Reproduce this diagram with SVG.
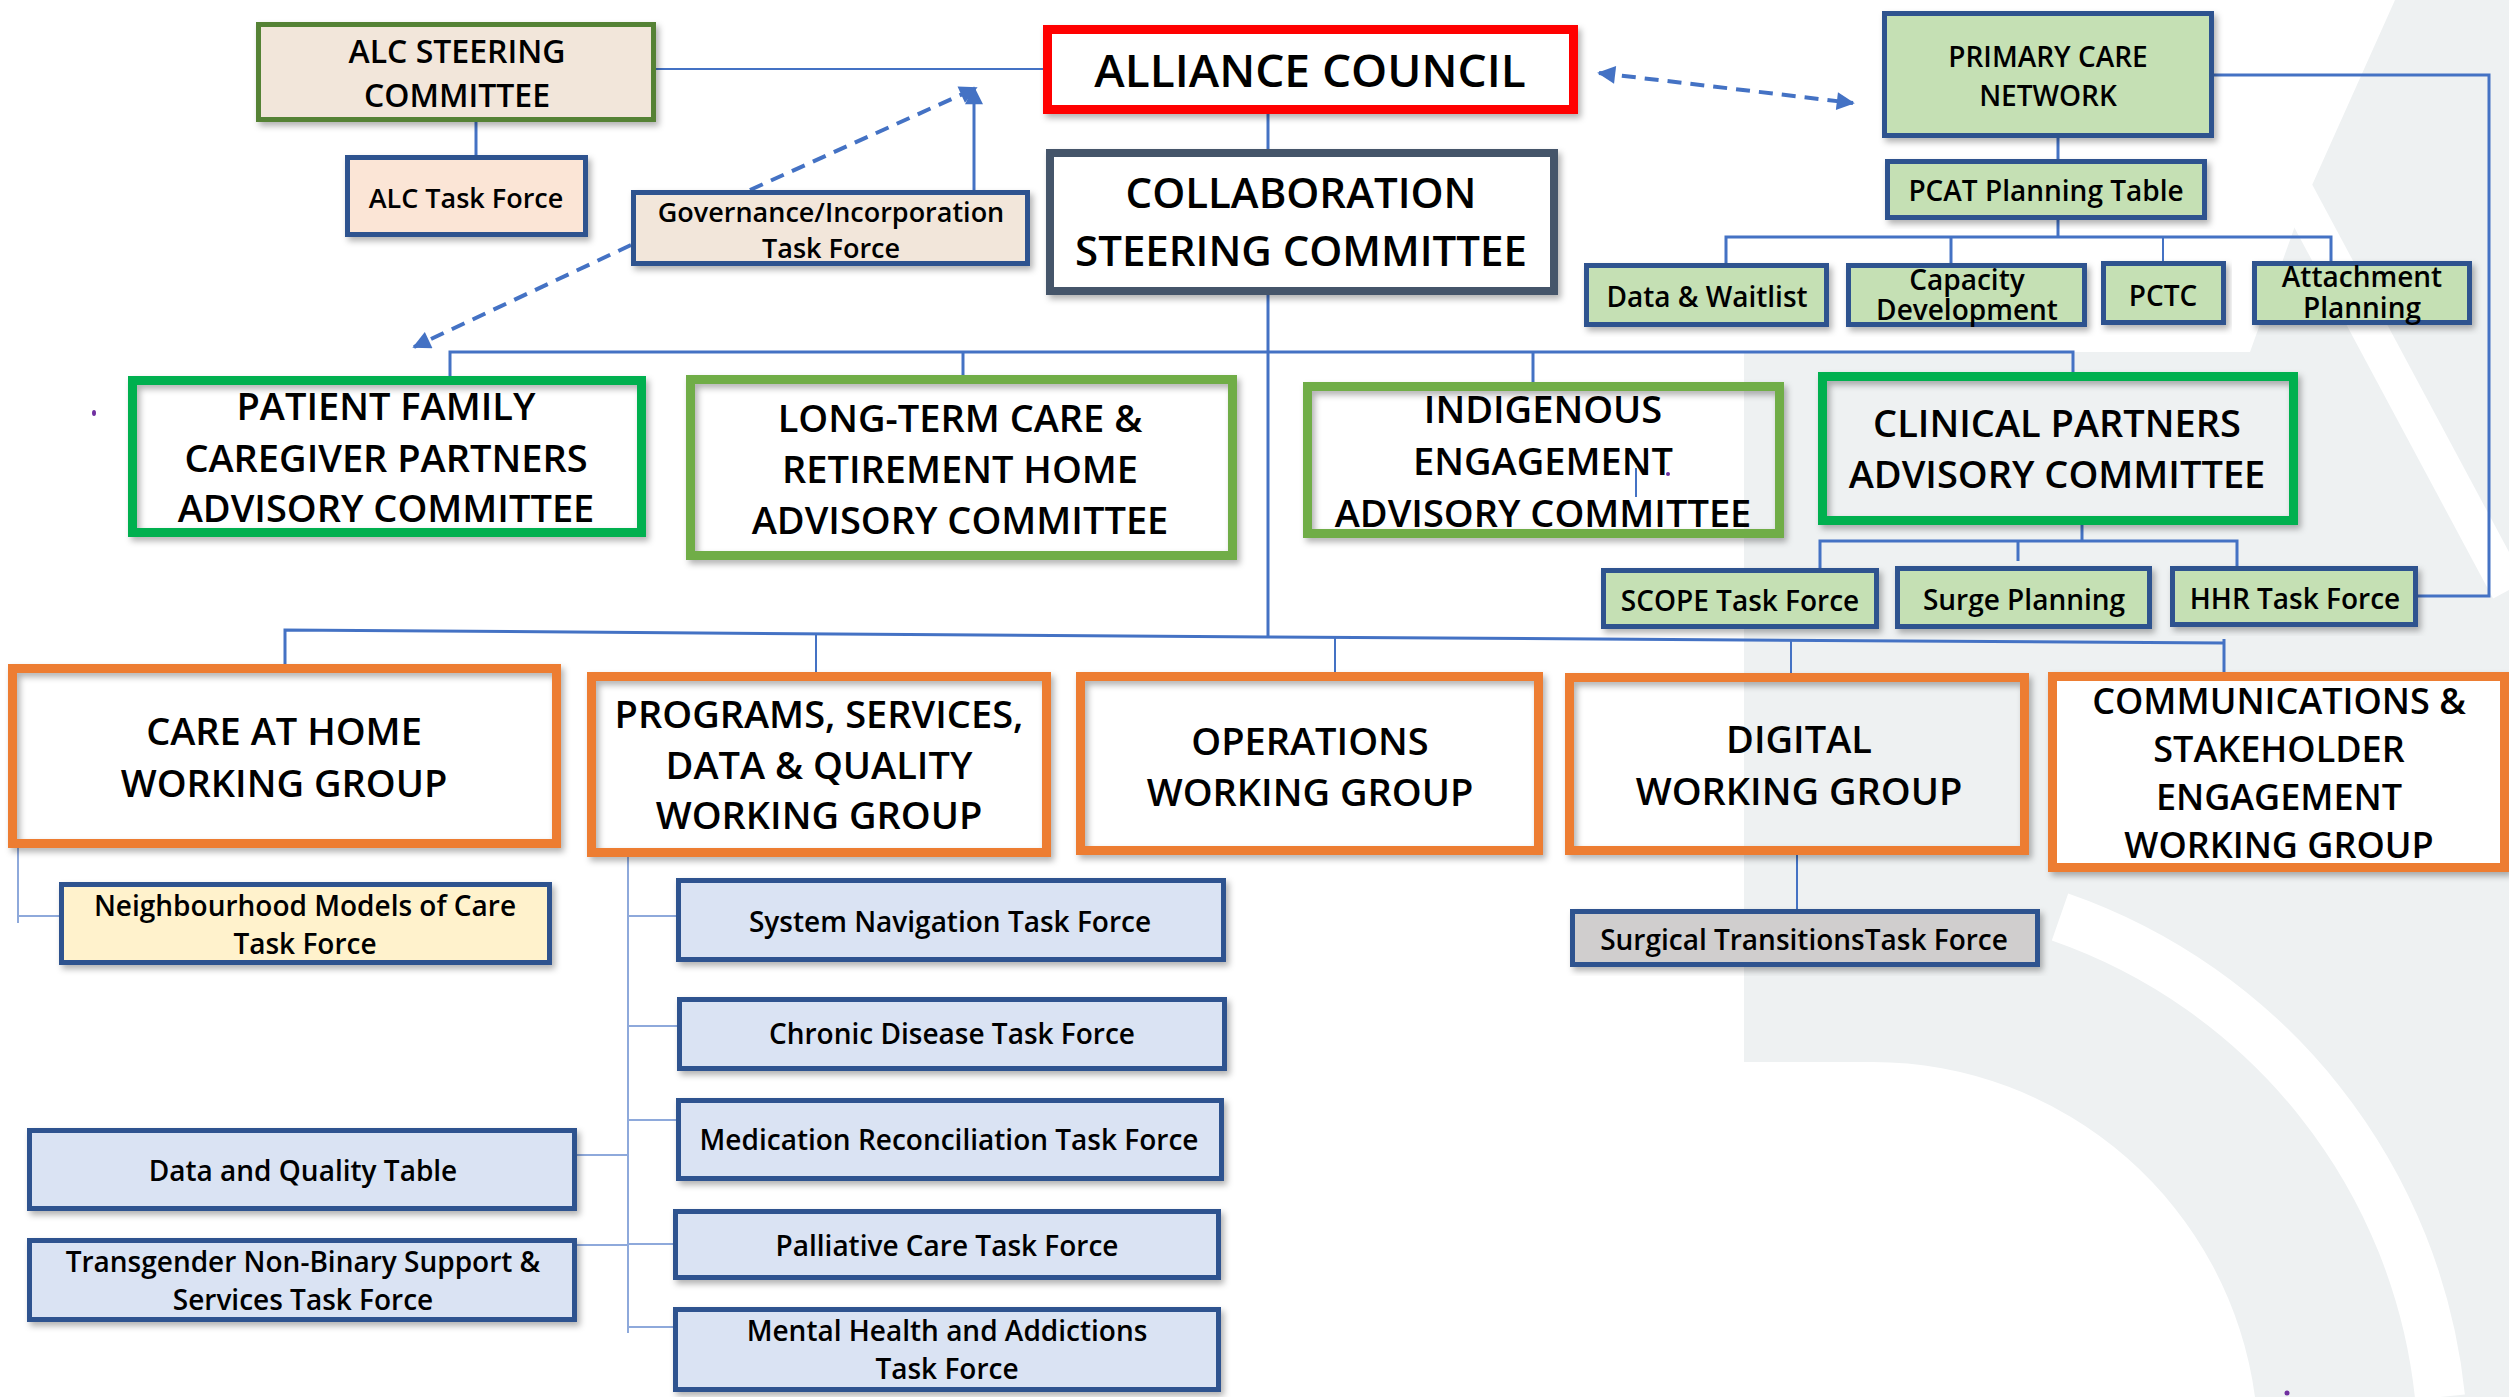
<svg xmlns="http://www.w3.org/2000/svg" width="2509" height="1397" viewBox="0 0 2509 1397">
<defs>
<style>
text{font-family:'Open Sans','Liberation Sans',sans-serif;font-weight:600;fill:#000;text-anchor:middle}
.f46{font-size:46px}.f42{font-size:42px}.f38{font-size:38px}.f36{font-size:36px}.f32{font-size:32px}.f28{font-size:28px}.f27{font-size:27px}
.c{stroke:#4472C4;stroke-width:3;fill:none}
.ct{stroke:#4472C4;stroke-width:2;fill:none}
.cl{stroke:#8EA9DB;stroke-width:2;fill:none}
.d{stroke:#4472C4;stroke-width:4;stroke-dasharray:14 9;fill:none}
.bl{fill:#DAE3F3;stroke:#2F528F;stroke-width:5}
.gr{fill:#C5E0B4;stroke:#2F528F;stroke-width:5}
.or{fill:none;stroke:#ED7D31;stroke-width:9}
.gA{fill:none;stroke:#00B050;stroke-width:9}
.gB{fill:none;stroke:#70AD47;stroke-width:9}
</style>
<filter id="sh" x="-5%" y="-10%" width="112%" height="130%">
<feDropShadow dx="3" dy="4" stdDeviation="3" flood-color="#000" flood-opacity="0.3"/>
</filter>
<marker id="ah" viewBox="0 0 10 10" refX="9" refY="5" markerWidth="20" markerHeight="18" markerUnits="userSpaceOnUse" orient="auto-start-reverse">
<path d="M0,0 L10,5 L0,10 z" fill="#4472C4"/>
</marker>
</defs>

<rect width="2509" height="1397" fill="#FFFFFF"/>
<g id="background">
<path d="M1744,352 L2250,352 L2300,212 L2395,0 L2509,0 L2509,1397 L2255,1397 A386,386 0 0 0 1873,1062 L1744,1062 Z" fill="#EEF1F2"/>
<path d="M2060,917 A570,570 0 0 1 2440,1397" fill="none" stroke="#FFFFFF" stroke-width="50"/>
<path d="M2292,185 L2509,590" fill="none" stroke="#FFFFFF" stroke-width="36"/>
</g>

<g id="connectors">
<path class="ct" d="M656,69 H1043"/>
<path class="c" d="M476,122 V155"/>
<path class="c" d="M974,190 V88" marker-end="url(#ah)"/>
<path class="d" d="M750,190 L976,88" marker-end="url(#ah)"/>
<path class="d" d="M631,245 L414,347" marker-end="url(#ah)"/>
<path class="d" d="M1599,73 L1853,103" marker-start="url(#ah)" marker-end="url(#ah)"/>
<path class="c" d="M1268,114 V149"/>
<path class="c" d="M1268,295 V637"/>
<path class="c" d="M450,376 V352 H2073 V372"/>
<path class="c" d="M963,352 V375"/>
<path class="c" d="M1533,352 V382"/>
<path class="c" d="M2058,138 V159"/>
<path class="c" d="M2058,220 V237"/>
<path class="c" d="M1726,263 V237 H2331 V261"/>
<path class="c" d="M1951,237 V263"/>
<path class="ct" d="M2163,237 V261"/>
<path class="c" d="M2214,75 H2489 V596 H2418"/>
<path class="c" d="M2082,525 V541"/>
<path class="c" d="M1820,568 V541 H2237 V566"/>
<path class="c" d="M2018,541 V561"/>
<path class="c" d="M285,664 V630 L1268,637 L2224,643"/>
<path class="c" d="M2224,639 V672"/>
<path class="ct" d="M816,634 V672"/>
<path class="ct" d="M1335,638 V672"/>
<path class="ct" d="M1791,641 V673"/>
<path class="ct" d="M1797,855 V909"/>
<path class="ct" d="M1636,468 V497"/>
<path class="cl" d="M18,848 V923 M18,916 H60"/>
<path class="cl" d="M628,857 V1333 M628,916 H676 M628,1026 H677 M628,1120 H676 M628,1244 H673 M628,1327 H673 M577,1155 H628 M577,1245 H628"/>
</g>

<g id="alc-steering"><rect x="258.5" y="24.5" width="395" height="95" fill="#F2E6DA" stroke="#548235" stroke-width="5" filter="url(#sh)"/>
<text class="f32" x="457" y="63">ALC STEERING</text><text class="f32" x="457" y="107">COMMITTEE</text></g>
<g id="alc-task-force"><rect x="347.5" y="157.5" width="238" height="77" fill="#FBE5D6" stroke="#2F528F" stroke-width="5" filter="url(#sh)"/>
<text class="f27" x="466" y="208">ALC Task Force</text></g>
<g id="governance"><rect x="633.5" y="192.5" width="394" height="71" fill="#F2E6DA" stroke="#2F528F" stroke-width="5" filter="url(#sh)"/>
<text class="f27" x="831" y="222">Governance/Incorporation</text><text class="f27" x="831" y="258">Task Force</text></g>
<g id="alliance-council"><rect x="1047.5" y="29.5" width="526" height="80" fill="#FFFFFF" stroke="#FF0000" stroke-width="9" filter="url(#sh)"/>
<text class="f46" x="1310" y="87">ALLIANCE COUNCIL</text></g>
<g id="collaboration"><rect x="1050" y="153" width="504" height="138" fill="#FFFFFF" stroke="#44546A" stroke-width="8" filter="url(#sh)"/>
<text class="f42" x="1301" y="208">COLLABORATION</text><text class="f42" x="1301" y="266">STEERING COMMITTEE</text></g>
<g id="pcn"><rect class="gr" x="1884.5" y="13.5" width="327" height="122" filter="url(#sh)"/>
<text class="f28" x="2048" y="67">PRIMARY CARE</text><text class="f28" x="2048" y="106">NETWORK</text></g>
<g id="pcat"><rect class="gr" x="1887.5" y="161.5" width="317" height="56" filter="url(#sh)"/>
<text class="f28" x="2046" y="201">PCAT Planning Table</text></g>
<g id="data-waitlist"><rect class="gr" x="1586.5" y="265.5" width="240" height="59" filter="url(#sh)"/>
<text class="f28" x="1707" y="307">Data &amp; Waitlist</text></g>
<g id="capacity"><rect class="gr" x="1848.5" y="265.5" width="236" height="59" filter="url(#sh)"/>
<text class="f28" x="1967" y="290">Capacity</text><text class="f28" x="1967" y="320">Development</text></g>
<g id="pctc"><rect class="gr" x="2103.5" y="263.5" width="120" height="59" filter="url(#sh)"/>
<text class="f28" x="2163" y="306">PCTC</text></g>
<g id="attachment"><rect class="gr" x="2254.5" y="263.5" width="215" height="59" filter="url(#sh)"/>
<text class="f28" x="2362" y="287">Attachment</text><text class="f28" x="2362" y="318">Planning</text></g>

<g id="pfc"><rect class="gA" x="132.5" y="380.5" width="509" height="152" filter="url(#sh)"/>
<text class="f38" x="386" y="420">PATIENT FAMILY</text><text class="f38" x="386" y="472">CAREGIVER PARTNERS</text><text class="f38" x="386" y="522">ADVISORY COMMITTEE</text></g>
<g id="ltc"><rect class="gB" x="690.5" y="379.5" width="542" height="176" filter="url(#sh)"/>
<text class="f38" x="960" y="432">LONG-TERM CARE &amp;</text><text class="f38" x="960" y="483">RETIREMENT HOME</text><text class="f38" x="960" y="534">ADVISORY COMMITTEE</text></g>
<g id="indigenous"><rect class="gB" x="1307.5" y="386.5" width="472" height="147" filter="url(#sh)"/>
<text class="f38" x="1543" y="423">INDIGENOUS</text><text class="f38" x="1543" y="475">ENGAGEMENT</text><text class="f38" x="1543" y="527">ADVISORY COMMITTEE</text></g>
<g id="clinical"><rect class="gA" x="1822.5" y="376.5" width="471" height="144" filter="url(#sh)"/>
<text class="f38" x="2057" y="437">CLINICAL PARTNERS</text><text class="f38" x="2057" y="488">ADVISORY COMMITTEE</text></g>
<g id="scope"><rect class="gr" x="1603.5" y="570.5" width="273" height="56" filter="url(#sh)"/>
<text class="f28" x="1740" y="611">SCOPE Task Force</text></g>
<g id="surge"><rect class="gr" x="1897.5" y="568.5" width="252" height="58" filter="url(#sh)"/>
<text class="f28" x="2024" y="610">Surge Planning</text></g>
<g id="hhr"><rect class="gr" x="2172.5" y="568.5" width="243" height="56" filter="url(#sh)"/>
<text class="f28" x="2295" y="609">HHR Task Force</text></g>

<g id="care-at-home"><rect class="or" x="12.5" y="668.5" width="544" height="175" filter="url(#sh)"/>
<text class="f38" x="284" y="745">CARE AT HOME</text><text class="f38" x="284" y="797">WORKING GROUP</text></g>
<g id="psdq"><rect class="or" x="591.5" y="676.5" width="455" height="176" filter="url(#sh)"/>
<text class="f38" x="819" y="728">PROGRAMS, SERVICES,</text><text class="f38" x="819" y="779">DATA &amp; QUALITY</text><text class="f38" x="819" y="829">WORKING GROUP</text></g>
<g id="operations"><rect class="or" x="1080.5" y="676.5" width="458" height="174" filter="url(#sh)"/>
<text class="f38" x="1310" y="755">OPERATIONS</text><text class="f38" x="1310" y="806">WORKING GROUP</text></g>
<g id="digital"><rect class="or" x="1569.5" y="677.5" width="455" height="173" filter="url(#sh)"/>
<text class="f38" x="1799" y="753">DIGITAL</text><text class="f38" x="1799" y="805">WORKING GROUP</text></g>
<g id="communications"><rect class="or" x="2052.5" y="676.5" width="452" height="191" style="fill:#FFFFFF" filter="url(#sh)"/>
<text class="f36" x="2279" y="714">COMMUNICATIONS &amp;</text><text class="f36" x="2279" y="762">STAKEHOLDER</text><text class="f36" x="2279" y="810">ENGAGEMENT</text><text class="f36" x="2279" y="858">WORKING GROUP</text></g>
<g id="surgical"><rect x="1572.5" y="911.5" width="465" height="53" fill="#D0CECE" stroke="#2F528F" stroke-width="5" filter="url(#sh)"/>
<text class="f28" x="1804" y="950">Surgical TransitionsTask Force</text></g>

<g id="neighbourhood"><rect x="61.5" y="884.5" width="488" height="78" fill="#FFF2CC" stroke="#2F528F" stroke-width="5" filter="url(#sh)"/>
<text class="f28" x="305" y="916">Neighbourhood Models of Care</text><text class="f28" x="305" y="954">Task Force</text></g>
<g id="system-navigation"><rect class="bl" x="678.5" y="880.5" width="545" height="79" filter="url(#sh)"/>
<text class="f28" x="950" y="932">System Navigation Task Force</text></g>
<g id="chronic"><rect class="bl" x="679.5" y="999.5" width="545" height="69" filter="url(#sh)"/>
<text class="f28" x="952" y="1044">Chronic Disease Task Force</text></g>
<g id="medrec"><rect class="bl" x="678.5" y="1100.5" width="543" height="78" filter="url(#sh)"/>
<text class="f28" x="949" y="1150">Medication Reconciliation Task Force</text></g>
<g id="palliative"><rect class="bl" x="675.5" y="1211.5" width="543" height="66" filter="url(#sh)"/>
<text class="f28" x="947" y="1256">Palliative Care Task Force</text></g>
<g id="mha"><rect class="bl" x="675.5" y="1309.5" width="543" height="80" filter="url(#sh)"/>
<text class="f28" x="947" y="1341">Mental Health and Addictions</text><text class="f28" x="947" y="1379">Task Force</text></g>
<g id="data-quality"><rect class="bl" x="29.5" y="1130.5" width="545" height="78" filter="url(#sh)"/>
<text class="f28" x="303" y="1181">Data and Quality Table</text></g>
<g id="transgender"><rect class="bl" x="29.5" y="1240.5" width="545" height="79" filter="url(#sh)"/>
<text class="f28" x="303" y="1272">Transgender Non-Binary Support &amp;</text><text class="f28" x="303" y="1310">Services Task Force</text></g>

<g id="marks" fill="#7030A0">
<ellipse cx="94" cy="413" rx="2" ry="3"/>
<circle cx="1668" cy="474" r="2"/>
<circle cx="2287" cy="1393" r="2.5"/>
</g>
</svg>
